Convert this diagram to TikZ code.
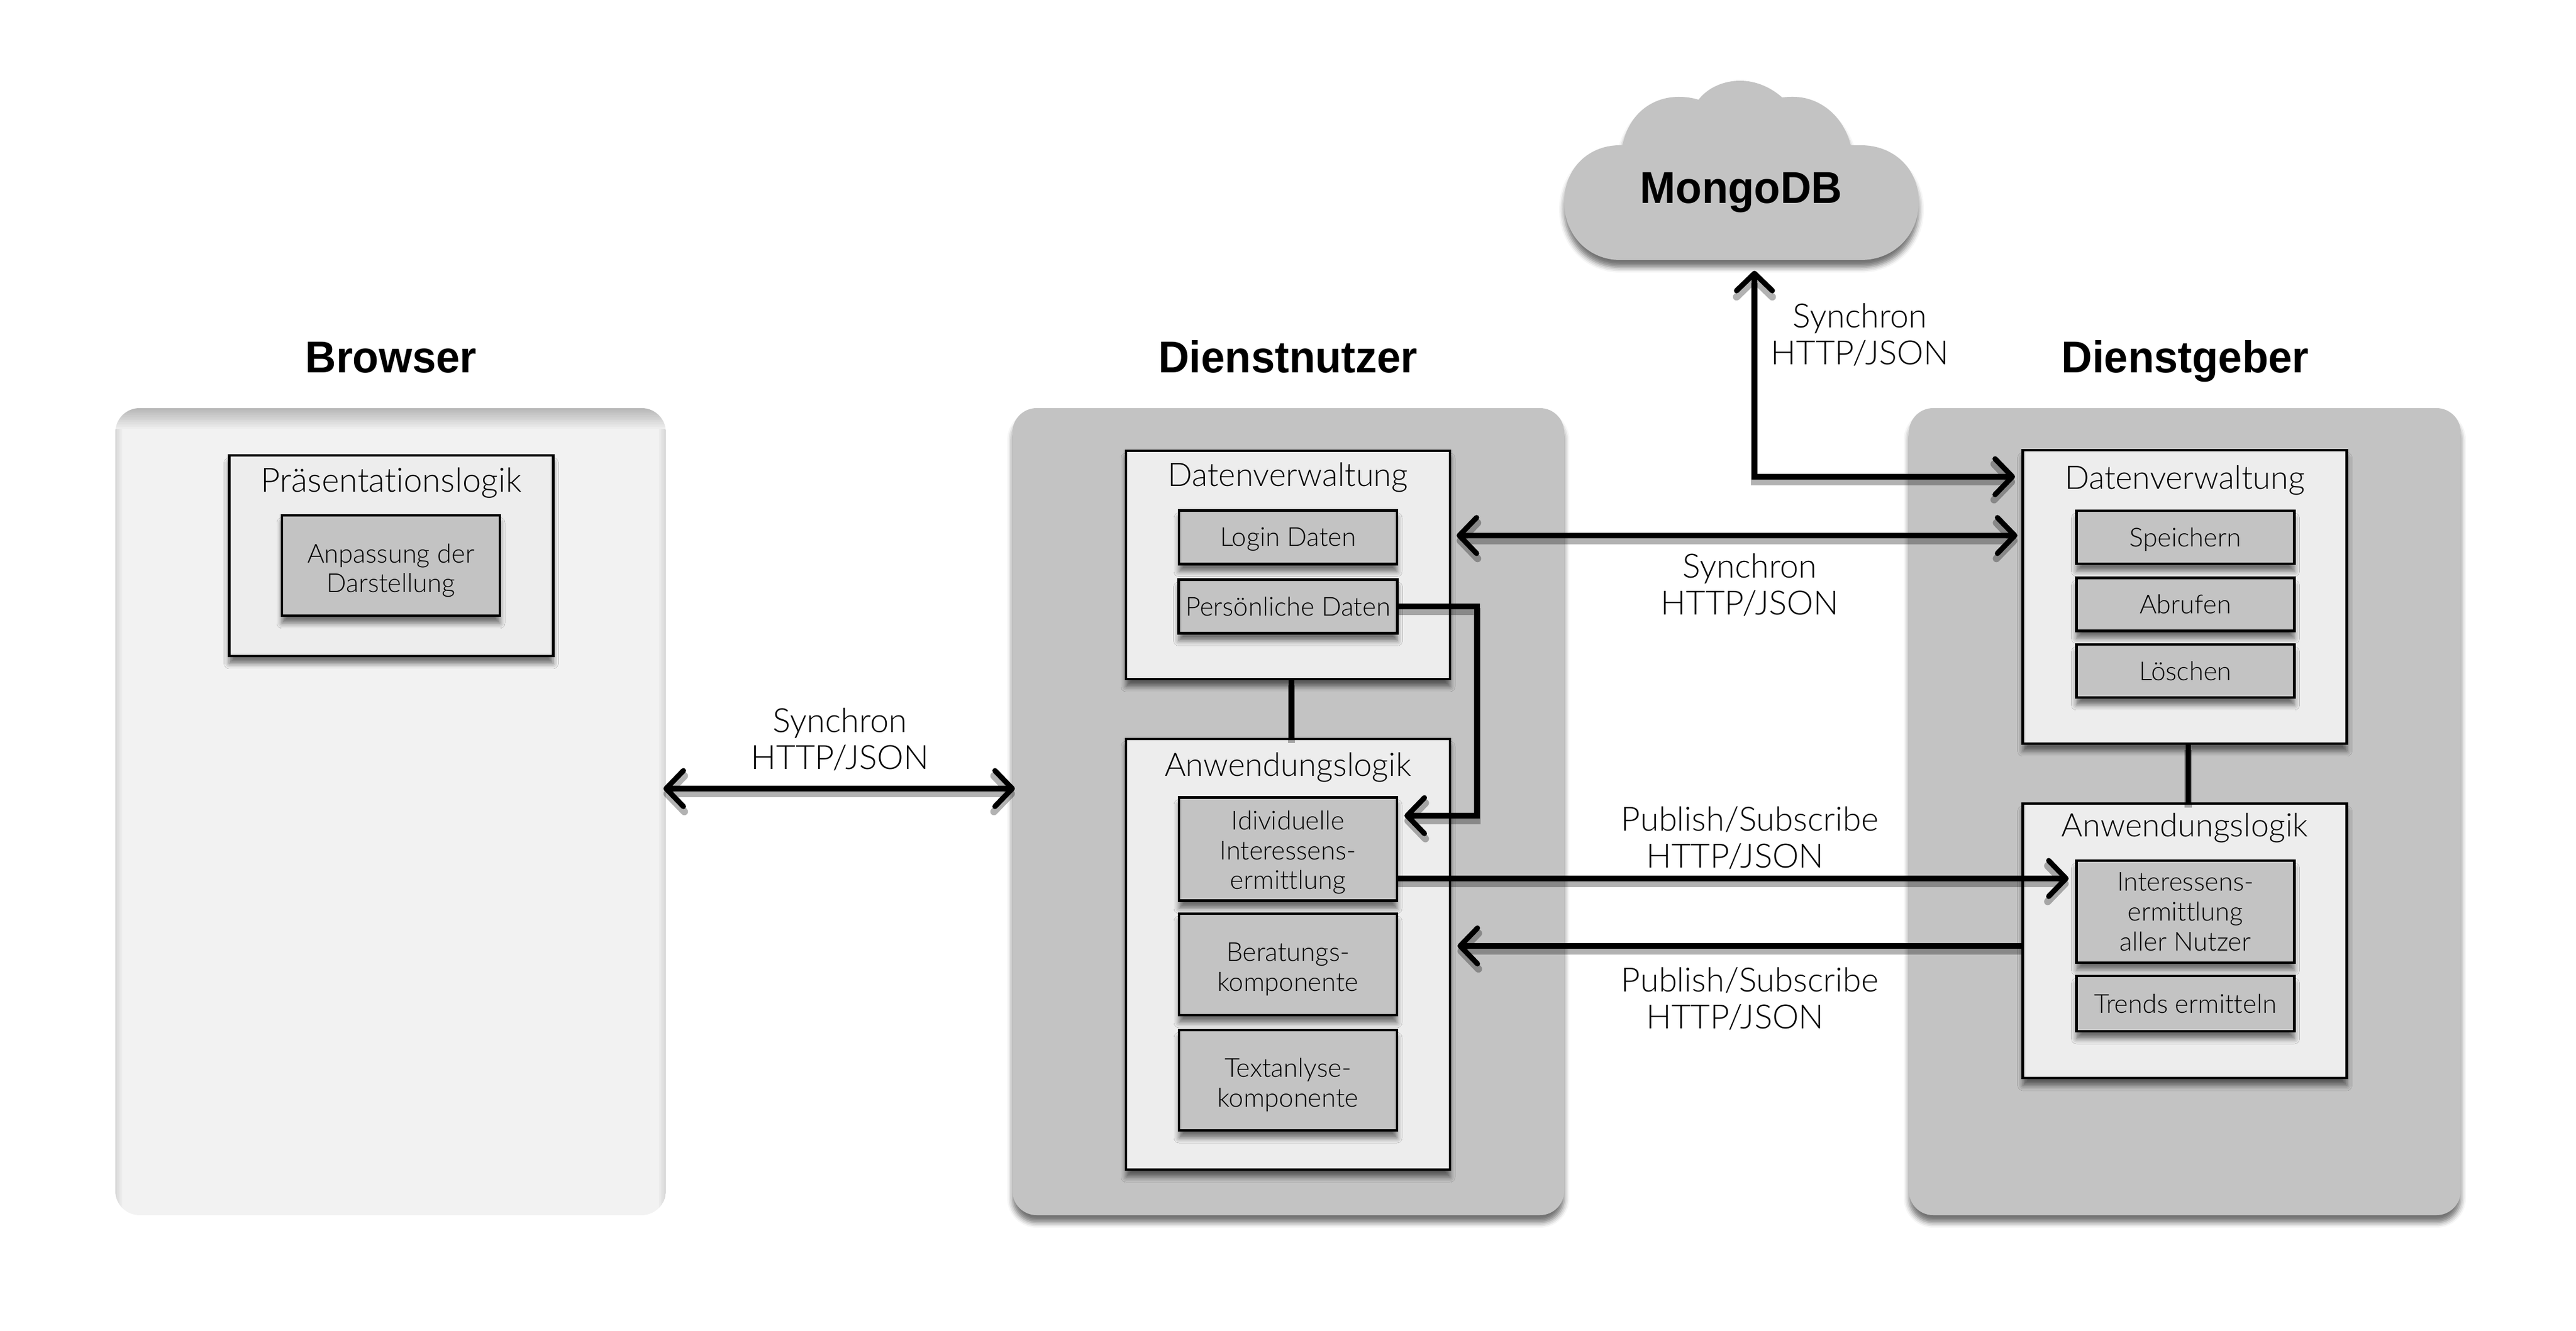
\documentclass[tikz,border=0pt]{standalone}
\usepackage{fontspec}
\setmainfont{Lato}[UprightFont=* Light,BoldFont=* Black,Ligatures=NoCommon]
\newfontfamily\headfont{Liberation Sans}[FakeStretch=.96]
\usepackage{tikz}
\usetikzlibrary{arrows.meta,positioning,shadows.blur}
\definecolor{panelgray}{HTML}{C3C3C3}
\definecolor{boxgray}{HTML}{EDEDED}
\definecolor{palegray}{HTML}{F2F2F2}

\begin{document}
\begin{tikzpicture}[
  softshadow/.style={
    blur shadow={shadow xshift=0cm,shadow yshift=-.13cm,shadow blur radius=.09cm,shadow opacity=55}
  },
  panel/.style={
    rectangle,
    rounded corners=.42cm,
    fill=panelgray,
    minimum width=9.57cm,
    minimum height=14cm
  },
  logicbox/.style={
    draw,
    rectangle,
    line width=1.4pt,
    fill=boxgray,
    minimum width=5.62cm,
    softshadow
  },
  partbox/.style={
    draw,
    rectangle,
    line width=1.4pt,
    fill=panelgray,
    align=center,
    minimum width=3.78cm,
    font=\fontsize{12.9}{14.7}\selectfont,
    softshadow
  },
  headline/.style={anchor=base, font=\headfont\bfseries\fontsize{22}{26}\selectfont},
  boxtitle/.style={anchor=base, font=\fontsize{16}{18}\selectfont},
  linklabel/.style={align=center, font=\fontsize{16.5}{18.2}\selectfont},
  link/.style={
    line width=2.6pt,
    preaction={draw, black, opacity=.3, line width=3.6pt, transform canvas={yshift=-.09cm}}
  },
  arrow/.style={link, -{Straight Barb[length=.3cm,width=.62cm,round]}},
  biarrow/.style={link, shorten >=-.05cm, shorten <=-.05cm, {Straight Barb[length=.3cm,width=.62cm,round]}-{Straight Barb[length=.3cm,width=.62cm,round]}}
]
\useasboundingbox (0,0) rectangle (44.68,23.08);

% cloud
\fill[panelgray, softshadow] (28.10,18.57)
  .. controls (27.55,18.57) and (27.13,19.00) .. (27.13,19.58)
  .. controls (27.13,20.15) and (27.55,20.58) .. (28.14,20.56)
  .. controls (28.25,21.10) and (28.65,21.40) .. (29.12,21.40)
  .. controls (29.25,21.40) and (29.36,21.38) .. (29.46,21.35)
  .. controls (29.62,21.56) and (29.90,21.68) .. (30.18,21.68)
  .. controls (30.46,21.68) and (30.72,21.56) .. (30.91,21.39)
  .. controls (31.00,21.40) and (31.05,21.40) .. (31.10,21.40)
  .. controls (31.58,21.40) and (31.98,21.05) .. (32.10,20.56)
  .. controls (32.15,20.56) and (32.22,20.56) .. (32.28,20.56)
  .. controls (32.85,20.56) and (33.28,20.15) .. (33.28,19.58)
  .. controls (33.28,19.00) and (32.85,18.57) .. (32.28,18.57) -- cycle;
\node[minimum height=2.8cm, font=\headfont\bfseries\fontsize{22}{26}\selectfont] (mongo) at (30.20,19.74) {MongoDB};

% panels
\node[panel, fill=palegray, minimum width=9.55cm,
  path picture={
    \foreach \i [evaluate=\i as \o using .24*(1-\i/12)] in {0,...,11}
      \fill[black, sharp corners, opacity=\o] ([yshift=-\i*.03cm]path picture bounding box.north west) rectangle ([yshift=-\i*.03cm-.03cm]path picture bounding box.north east);
    \foreach \i [evaluate=\i as \o using .1*(1-\i/4)] in {0,...,3} {
      \fill[black, sharp corners, opacity=\o] ([xshift=\i*.03cm,yshift=-.36cm]path picture bounding box.north west) rectangle ([xshift=\i*.03cm+.03cm]path picture bounding box.south west);
      \fill[black, sharp corners, opacity=\o] ([xshift=-\i*.03cm,yshift=-.36cm]path picture bounding box.north east) rectangle ([xshift=-\i*.03cm-.03cm]path picture bounding box.south east);
    }
  }] (browser) at (6.775,9) {};
\node[panel, softshadow] (nutzer) at (22.345,9) {};
\node[panel, softshadow] (geber)  at (37.895,9) {};

\node[headline] (browsertitle) at (6.78,16.61)  {Browser};
\node[headline] (nutzertitle)  at (22.34,16.61) {Dienstnutzer};
\node[headline] (gebertitle)   at (37.90,16.61) {Dienstgeber};

% browser
\node[logicbox, minimum height=3.48cm] (praes) at (6.785,13.44) {};
\node[boxtitle, font=\fontsize{16.5}{18}\selectfont] at (6.785,14.54) {Präsentationslogik};
\node[partbox, minimum height=1.74cm, text height=1.02cm] (anpassung) at (6.78,13.27) {Anpassung der\\Darstellung};

% dienstnutzer
\node[logicbox, minimum height=3.96cm] (ndaten) at (22.34,13.28) {};
\node[boxtitle] at (22.34,14.64) {Datenverwaltung};
\node[partbox, minimum height=.93cm, text height=.4cm] (login) at (22.34,13.76) {Login Daten};
\node[partbox, minimum height=.93cm] (pers)  at (22.34,12.56) {Persönliche Daten};

\node[logicbox, minimum height=7.47cm] (nlogik) at (22.34,6.525) {};
\node[boxtitle] at (22.34,9.62) {Anwendungslogik};
\node[partbox, minimum height=1.74cm, text height=1.48cm] (indiv)  at (22.34,8.35) {Idividuelle\\Interessens-\\ermittlung};
\node[partbox, minimum height=1.76cm, text height=1cm] (berat)  at (22.34,6.35) {Beratungs-\\komponente};
\node[partbox, minimum height=1.74cm, text height=1cm] (textan) at (22.34,4.34) {Textanlyse-\\komponente};

% dienstgeber
\node[logicbox, minimum height=5.09cm] (gdaten) at (37.895,12.725) {};
\node[boxtitle] at (37.895,14.59) {Datenverwaltung};
\node[partbox, minimum height=.92cm, text height=.4cm] (speichern) at (37.905,13.76)  {Speichern};
\node[partbox, minimum height=.92cm] (abrufen)   at (37.905,12.595) {Abrufen};
\node[partbox, minimum height=.92cm] (loeschen)  at (37.905,11.44)  {Löschen};

\node[logicbox, minimum height=4.76cm] (glogik) at (37.895,6.76) {};
\node[boxtitle] at (37.895,8.565) {Anwendungslogik};
\node[partbox, minimum height=1.77cm] (inter)  at (37.905,7.265) {Interessens-\\ermittlung\\aller Nutzer};
\node[partbox, minimum height=.96cm]  (trends) at (37.905,5.67)  {Trends ermitteln};

% link ends
\coordinate (persin)  at (24.36,8.93);
\coordinate (persout) at (25.62,12.56);
\coordinate (interin) at (35.88,7.84);
\coordinate (logikin) at (25.28,6.67);
\coordinate (gdatenin) at (34.90,14.81);

\draw[link] ([xshift=.06cm]ndaten.south) -- ([xshift=.06cm]nlogik.north);
\draw[link] ([xshift=.06cm]gdaten.south) -- ([xshift=.06cm]glogik.north);

\draw[biarrow] ([yshift=.4cm]browser.east) -- ([yshift=.4cm]nutzer.west);
\draw[biarrow] ([xshift=.14cm,yshift=.51cm]ndaten.east) -- ([xshift=-.12cm,yshift=1.065cm]gdaten.west);
\draw[arrow] (pers.east) -- (persout) |- (persin);
\draw[arrow] (indiv.east |- interin) -- (interin);
\draw[arrow] (glogik.west |- logikin) -- (logikin);
\draw[biarrow] ([xshift=.23cm]mongo.south) |- (gdatenin);

\node[linklabel] (l1) at (14.57,10.25) {Synchron\\HTTP/JSON};
\node[linklabel] (l2) at (32.26,17.27) {Synchron\\HTTP/JSON};
\node[linklabel] (l3) at (30.35,12.93) {Synchron\\HTTP/JSON};
\node[linklabel] (l4) at (30.35,8.54)  {Publish/Subscribe\\HTTP/JSON\kern.51cm};
\node[linklabel] (l5) at (30.35,5.75)  {Publish/Subscribe\\HTTP/JSON\kern.51cm};

\end{tikzpicture}
\end{document}
